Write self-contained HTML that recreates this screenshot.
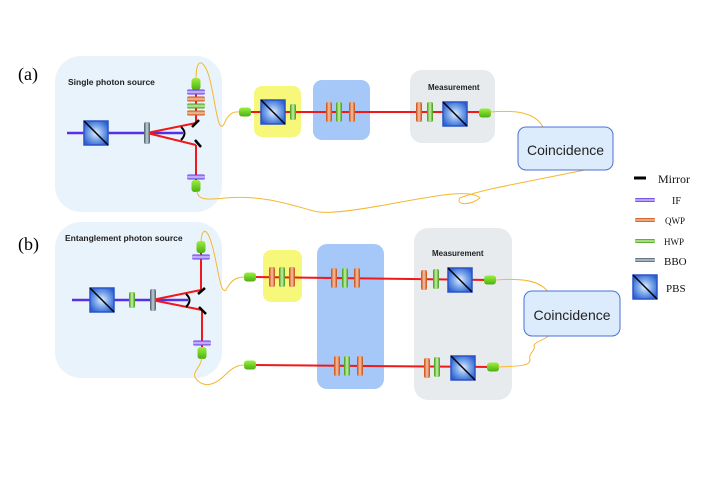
<!DOCTYPE html>
<html><head><meta charset="utf-8"><style>body{margin:0;background:#fff}svg{display:block}</style></head><body>
<svg width="702" height="496" viewBox="0 0 702 496" xmlns="http://www.w3.org/2000/svg" font-family="Liberation Sans, sans-serif">
<defs>
<radialGradient id="pbs" cx="50%" cy="50%" r="60%"><stop offset="0" stop-color="#e6f0ff"/><stop offset="0.5" stop-color="#7aa6ea"/><stop offset="1" stop-color="#2b5fd0"/></radialGradient>
<linearGradient id="q" x1="0" x2="1"><stop offset="0" stop-color="#c84a10"/><stop offset="0.5" stop-color="#f6c4a4"/><stop offset="1" stop-color="#c84a10"/></linearGradient>
<linearGradient id="h" x1="0" x2="1"><stop offset="0" stop-color="#3e9a12"/><stop offset="0.5" stop-color="#c8f0a8"/><stop offset="1" stop-color="#3e9a12"/></linearGradient>
<linearGradient id="b" x1="0" x2="1"><stop offset="0" stop-color="#4a5a68"/><stop offset="0.5" stop-color="#c0d0dc"/><stop offset="1" stop-color="#4a5a68"/></linearGradient>
<linearGradient id="fi" x1="0" y1="0" x2="0" y2="1"><stop offset="0" stop-color="#5a2ce8"/><stop offset="0.5" stop-color="#d8ccff"/><stop offset="1" stop-color="#5a2ce8"/></linearGradient>
<linearGradient id="qh" x1="0" y1="0" x2="0" y2="1"><stop offset="0" stop-color="#c84a10"/><stop offset="0.5" stop-color="#f6c4a4"/><stop offset="1" stop-color="#c84a10"/></linearGradient>
<linearGradient id="hh" x1="0" y1="0" x2="0" y2="1"><stop offset="0" stop-color="#3e9a12"/><stop offset="0.5" stop-color="#c8f0a8"/><stop offset="1" stop-color="#3e9a12"/></linearGradient>
<linearGradient id="bh" x1="0" y1="0" x2="0" y2="1"><stop offset="0" stop-color="#4a5a68"/><stop offset="0.5" stop-color="#c0d0dc"/><stop offset="1" stop-color="#4a5a68"/></linearGradient>
<linearGradient id="cp" x1="0" y1="0" x2="0" y2="1"><stop offset="0" stop-color="#9cf040"/><stop offset="1" stop-color="#4cb010"/></linearGradient>
<g id="P"><rect x="-12" y="-12" width="24" height="24" fill="url(#pbs)" stroke="#2b55c8" stroke-width="1.5"/><line x1="-12" y1="-12" x2="12" y2="12" stroke="#000" stroke-width="1.5"/></g>
<rect id="Q" x="-3" y="-10" width="6" height="20" rx="2" fill="url(#q)"/>
<rect id="H" x="-3" y="-10" width="6" height="20" rx="2" fill="url(#h)"/>
<rect id="B" x="-3" y="-11" width="6" height="22" rx="2" fill="url(#b)"/>
<rect id="CH" x="-6" y="-4.5" width="12" height="9" rx="3" fill="url(#cp)"/>
<rect id="CV" x="-4.5" y="-6" width="9" height="12" rx="3" fill="url(#cp)"/>
<rect id="IFh" x="-9" y="-2.5" width="18" height="5" rx="1.5" fill="url(#fi)"/>
<rect id="QH" x="-9" y="-2.5" width="18" height="5" rx="1.5" fill="url(#qh)"/>
<rect id="HH" x="-9" y="-2.5" width="18" height="5" rx="1.5" fill="url(#hh)"/>
</defs>

<!-- (a) -->
<text x="18" y="80" font-family="Liberation Serif, serif" font-size="18">(a)</text>
<rect x="55" y="56" width="167" height="156" rx="26" fill="#e9f3fb"/>
<text x="68" y="85" font-size="8.5" font-weight="bold" fill="#222">Single photon source</text>
<rect x="254" y="86" width="47" height="51" rx="8" fill="#f7f77a"/>
<rect x="313" y="80" width="57" height="60" rx="9" fill="#a6c8f8"/>
<rect x="410" y="70" width="85" height="73" rx="12" fill="#e8ebee"/>
<text x="428" y="90" font-size="8" font-weight="bold" fill="#222">Measurement</text>
<line x1="67" y1="133" x2="183" y2="133" stroke="#5530e8" stroke-width="2.5"/>
<polyline points="196,123 147,133 196,145" fill="none" stroke="#f01818" stroke-width="2"/>
<line x1="196" y1="123" x2="196" y2="80" stroke="#f01818" stroke-width="2"/>
<line x1="196" y1="145" x2="196" y2="186" stroke="#f01818" stroke-width="2"/>
<path d="M181,127 Q188,133 181,140" fill="none" stroke="#000" stroke-width="2"/>
<line x1="192" y1="127" x2="199" y2="120" stroke="#000" stroke-width="2.5"/>
<line x1="195" y1="140" x2="201" y2="147" stroke="#000" stroke-width="2.5"/>
<use href="#P" x="96" y="133"/>
<use href="#B" x="147" y="133"/>
<use href="#CV" x="196" y="84"/>
<use href="#IFh" x="196" y="92"/>
<use href="#QH" x="196" y="99"/>
<use href="#HH" x="196" y="106"/>
<use href="#QH" x="196" y="113"/>
<use href="#IFh" x="196" y="177"/>
<use href="#CV" x="196" y="186"/>
<line x1="245" y1="112" x2="485" y2="112" stroke="#f01818" stroke-width="2"/>
<path d="M196,79 C196,55 205,60 210,80 C216,105 218,135 224,124 C230,110 236,112 241,112" fill="none" stroke="#f5b830" stroke-width="1"/>
<use href="#CH" x="245" y="112"/>
<use href="#P" x="273" y="112"/>
<rect x="290" y="104" width="6" height="16" rx="2" fill="url(#h)"/>
<use href="#Q" x="329" y="112"/><use href="#H" x="339" y="112"/><use href="#Q" x="352" y="112"/>
<use href="#Q" x="419" y="112"/><use href="#H" x="430" y="112"/>
<use href="#P" x="455" y="114"/>
<use href="#CH" x="485" y="113"/>
<path d="M490,112 C515,110 535,112 543,127" fill="none" stroke="#f5b830" stroke-width="1"/>
<path d="M197,191 C198,200 205,200 225,198 C260,195 285,203 310,210 C320,213 330,215 390,204 C430,197 470,188 480,198 C470,206 455,205 460,198 C480,190 510,185 600,167" fill="none" stroke="#f5b830" stroke-width="1"/>
<rect x="518" y="127" width="95" height="43" rx="8" fill="#ddecfc" stroke="#4a70d8" stroke-width="1"/>
<text x="565.5" y="155" text-anchor="middle" font-size="14" fill="#222">Coincidence</text>

<!-- (b) -->
<text x="18" y="250" font-family="Liberation Serif, serif" font-size="18">(b)</text>
<rect x="55" y="222" width="167" height="156" rx="26" fill="#e9f3fb"/>
<text x="65" y="241" font-size="8.5" font-weight="bold" fill="#222">Entanglement photon source</text>
<rect x="263" y="250" width="39" height="52" rx="8" fill="#f7f77a"/>
<rect x="317" y="244" width="67" height="145" rx="10" fill="#a6c8f8"/>
<rect x="414" y="228" width="98" height="172" rx="14" fill="#e8ebee"/>
<text x="432" y="256" font-size="8" font-weight="bold" fill="#222">Measurement</text>
<line x1="72" y1="300" x2="188" y2="300" stroke="#5530e8" stroke-width="2.5"/>
<polyline points="201,290 152,300 202,310" fill="none" stroke="#f01818" stroke-width="2"/>
<line x1="201" y1="290" x2="201" y2="247" stroke="#f01818" stroke-width="2"/>
<line x1="202" y1="310" x2="202" y2="352" stroke="#f01818" stroke-width="2"/>
<path d="M186,294 Q193,300 186,307" fill="none" stroke="#000" stroke-width="2"/>
<line x1="198" y1="294" x2="205" y2="288" stroke="#000" stroke-width="2.5"/>
<line x1="199" y1="307" x2="206" y2="314" stroke="#000" stroke-width="2.5"/>
<use href="#P" x="102" y="300"/>
<rect x="129" y="292" width="6" height="16" rx="2" fill="url(#h)"/>
<use href="#B" x="153" y="300"/>
<use href="#CV" x="201" y="247"/>
<use href="#IFh" x="201" y="257"/>
<use href="#IFh" x="202" y="343"/>
<use href="#CV" x="202" y="353"/>
<path d="M201,242 C202,225 208,230 212,245 C218,265 220,295 226,290 C232,278 238,277 246,277" fill="none" stroke="#f5b830" stroke-width="1"/>
<path d="M202,358 C200,370 190,372 197,380 C205,388 215,385 225,375 C235,365 240,365 246,365" fill="none" stroke="#f5b830" stroke-width="1"/>
<line x1="250" y1="277" x2="490" y2="280" stroke="#f01818" stroke-width="2"/>
<line x1="250" y1="365" x2="495" y2="367" stroke="#f01818" stroke-width="2"/>
<use href="#CH" x="250" y="277"/><use href="#CH" x="250" y="365"/>
<use href="#Q" x="272" y="277"/><use href="#H" x="282" y="277"/><use href="#Q" x="292" y="277"/>
<use href="#Q" x="334" y="278"/><use href="#H" x="345" y="278"/><use href="#Q" x="357" y="278"/>
<use href="#Q" x="337" y="366"/><use href="#H" x="347" y="366"/><use href="#Q" x="360" y="366"/>
<use href="#Q" x="424" y="280"/><use href="#H" x="436" y="279"/>
<use href="#P" x="460" y="280"/>
<use href="#CH" x="490" y="280"/>
<use href="#Q" x="427" y="368"/><use href="#H" x="437" y="367"/>
<use href="#P" x="463" y="368"/>
<use href="#CH" x="493" y="367"/>
<path d="M496,280 C520,278 540,280 548,292" fill="none" stroke="#f5b830" stroke-width="1"/>
<path d="M498,367 C520,366 530,366 530,360 C528,352 536,352 534,345 C538,340 545,340 548,336" fill="none" stroke="#f5b830" stroke-width="1"/>
<rect x="524" y="291" width="96" height="45" rx="8" fill="#ddecfc" stroke="#4a70d8" stroke-width="1"/>
<text x="572" y="320" text-anchor="middle" font-size="14" fill="#222">Coincidence</text>

<!-- legend -->
<g font-family="Liberation Serif, serif" fill="#111">
<line x1="634" y1="178" x2="646" y2="178" stroke="#000" stroke-width="3"/>
<text x="658" y="183" font-size="12">Mirror</text>
<rect x="635" y="198" width="20" height="4" rx="1" fill="url(#fi)"/>
<text x="672" y="204" font-size="10">IF</text>
<rect x="635" y="218" width="20" height="4" rx="1" fill="url(#qh)"/>
<text x="665" y="224" font-size="9">QWP</text>
<rect x="635" y="239" width="20" height="4" rx="1" fill="url(#hh)"/>
<text x="664" y="245" font-size="9">HWP</text>
<rect x="635" y="258" width="20" height="4" rx="1" fill="url(#bh)"/>
<text x="664" y="265" font-size="11">BBO</text>
<use href="#P" transform="translate(645 287)"/>
<text x="666" y="292" font-size="11">PBS</text>
</g>
</svg>
</body></html>
